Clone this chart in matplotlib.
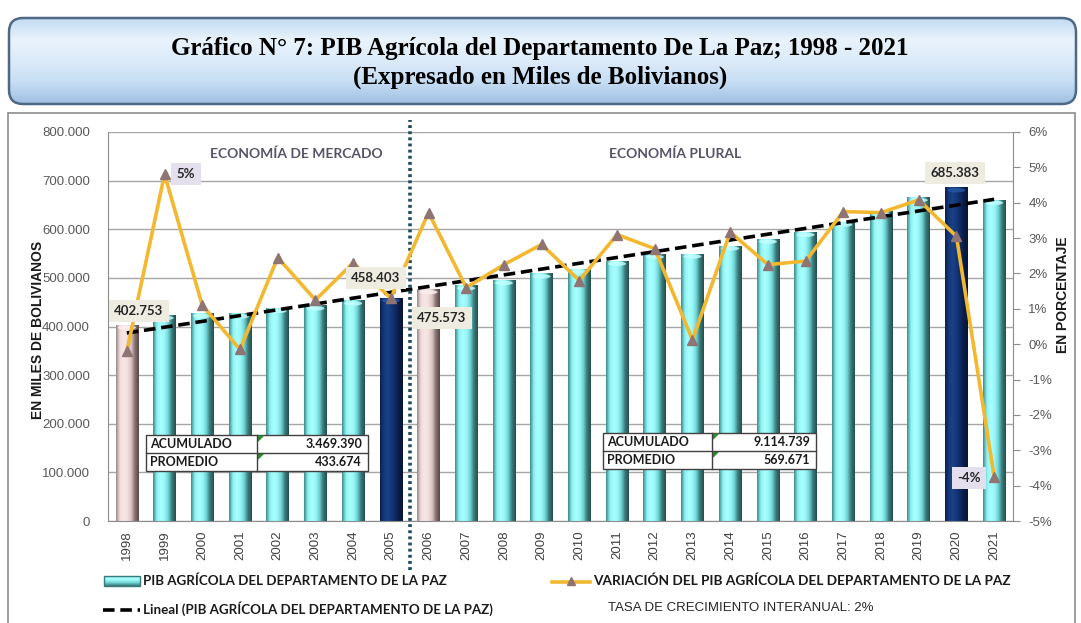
import numpy as np
import matplotlib
matplotlib.use('Agg')
import matplotlib.pyplot as plt
from matplotlib.colors import LinearSegmentedColormap
from matplotlib.patches import Rectangle, FancyBboxPatch, Ellipse

# ---- data ----
years = [str(y) for y in range(1998, 2022)]
pib = [402753, 422500, 426600, 425800, 437000, 442300, 452500, 458403,
       475573, 483500, 494500, 508000, 518000, 534000, 548000, 549000,
       565500, 579500, 593500, 614500, 637000, 664800, 685383, 659500]
variacion = [-0.2, 4.8, 1.1, -0.15, 2.45, 1.25, 2.3, 1.3,
             3.72, 1.6, 2.25, 2.82, 1.8, 3.1, 2.7, 0.12,
             3.17, 2.25, 2.35, 3.75, 3.72, 4.08, 3.05, -3.75]
# bar colour group: c = cyan, p = pink (start of period), n = navy (end of period)
bar_kind = ['p', 'c', 'c', 'c', 'c', 'c', 'c', 'n',
            'p', 'c', 'c', 'c', 'c', 'c', 'c', 'c',
            'c', 'c', 'c', 'c', 'c', 'c', 'n', 'c']
y_ticks = list(range(0, 800001, 100000))
pct_ticks = list(range(-5, 7))
bar_labels = {0: '402.753', 7: '458.403', 8: '475.573', 22: '685.383'}
pct_labels = {1: '5%', 23: '-4%'}
tabla_mercado = [('ACUMULADO', '3.469.390'), ('PROMEDIO', '433.674')]
tabla_plural = [('ACUMULADO', '9.114.739'), ('PROMEDIO', '569.671')]

W, H = 1081, 623
def fx(x):
    return x / W
def fy(y):
    return 1 - y / H

CAL = 'Lato'
ARIAL = 'Liberation Sans'

fig = plt.figure(figsize=(W / 100, H / 100), dpi=100)

# ---- title box ----
tax = fig.add_axes([0, 0, 1, 1], zorder=0)
tax.set_xlim(0, W)
tax.set_ylim(H, 0)
tax.axis('off')
title_cmap = LinearSegmentedColormap.from_list('t', ['#c3dbf2', '#e9f3fc', '#dcebf9', '#c6ddf3', '#9fc0e2'])
grad = np.linspace(0, 1, 100).reshape(-1, 1)
box = FancyBboxPatch((9, 18), 1067, 86, boxstyle='round,pad=0,rounding_size=14',
                     facecolor='none', edgecolor='#4d6985', lw=1.8, zorder=3)
tax.add_patch(box)
im = tax.imshow(grad, cmap=title_cmap, extent=(9, 1076, 104, 18), aspect='auto', zorder=2)
im.set_clip_path(box)
tax.text(540, 48, 'Gráfico N° 7: PIB Agrícola del Departamento De La Paz; 1998 - 2021',
         ha='center', va='center', fontsize=18, fontweight='bold', family='Liberation Serif')
tax.text(540, 77, '(Expresado en Miles de Bolivianos)',
         ha='center', va='center', fontsize=18, fontweight='bold', family='Liberation Serif')
# chart border
tax.add_patch(Rectangle((8, 113), 1067, 520, facecolor='white', edgecolor='#8c8c8c', lw=1.2, zorder=1))

# ---- main axes ----
ax = fig.add_axes([fx(108), fy(521), fx(1013) - fx(108), fy(132) - fy(521)], zorder=2)
ax.patch.set_alpha(0)
x = np.arange(len(years))
bw = 0.6

cmaps = {
    'c': LinearSegmentedColormap.from_list('c', ['#3f8c8c', '#8ff2f2', '#a9ffff', '#9cf8f8', '#6fd6d6', '#3a7a7a', '#264f4f']),
    'p': LinearSegmentedColormap.from_list('p', ['#9c8a8a', '#efdcdc', '#f8e6e6', '#f2dede', '#d8c2c2', '#857070', '#5a4848']),
    'n': LinearSegmentedColormap.from_list('n', ['#0b2050', '#16397a', '#1a428a', '#153777', '#0f2a62', '#0a1c46', '#081634']),
}
cap_col = {'c': '#c4ffff', 'p': '#fff0f0', 'n': '#2a58a8'}
hgrad = np.linspace(0, 1, 60).reshape(1, -1)
for i, v in enumerate(pib):
    k = bar_kind[i]
    ax.imshow(hgrad, cmap=cmaps[k], extent=(i - bw / 2, i + bw / 2, 0, v),
              aspect='auto', zorder=2, interpolation='bilinear')
    ax.add_patch(Ellipse((i, v - 5000), bw * 0.8, 9000, facecolor=cap_col[k], edgecolor='none',
                         alpha=0.8, zorder=2.1))

ax.set_xlim(-0.5, len(years) - 0.5)
ax.set_ylim(0, 800000)
ax.set_yticks(y_ticks)
ax.set_yticklabels(['0' if t == 0 else f'{t:,}'.replace(',', '.') for t in y_ticks],
                   family=ARIAL, fontsize=9.5, color='#595959')
ax.set_xticks(x)
ax.set_xticklabels(years, rotation=90, family=ARIAL, fontsize=9.5, color='#404040')
ax.tick_params(axis='y', length=0, pad=13)
ax.tick_params(axis='x', length=0, pad=7)
ax.grid(axis='y', color='#a6a6a6', lw=1, zorder=0)
ax.set_axisbelow(True)
ax.spines['top'].set_visible(False)
for s in ['left', 'bottom', 'right']:
    ax.spines[s].set_color('#8c8c8c')

# trend line
coef = np.polyfit(x, pib, 1)
ax.plot([x[0], x[-1]], np.polyval(coef, [x[0], x[-1]]), color='black', lw=2.6,
        ls=(0, (3.2, 1.6)), zorder=5)

# section separator
ax.plot([7.5, 7.5], [-0.125, 1.03], transform=ax.get_xaxis_transform(), clip_on=False,
        color='#1f4e5f', lw=2.6, ls=(0, (0.8, 0.9)), zorder=6)

ax.text(4.49, 0.945, 'ECONOMÍA DE MERCADO', transform=ax.get_xaxis_transform(),
        ha='center', va='center', family=CAL, fontsize=10, fontweight='bold', color='#57546a')
ax.text(14.54, 0.945, 'ECONOMÍA PLURAL', transform=ax.get_xaxis_transform(),
        ha='center', va='center', family=CAL, fontsize=10, fontweight='bold', color='#57546a')

# ---- percent axis ----
ax2 = ax.twinx()
ax2.set_zorder(3)
ax2.set_ylim(-5, 6)
ax2.set_yticks(pct_ticks)
ax2.set_yticklabels([f'{t}%' for t in pct_ticks], family=ARIAL, fontsize=9.5, color='#595959')
ax2.tick_params(axis='y', length=5, color='#8c8c8c', pad=6)
for s in ax2.spines.values():
    s.set_visible(False)
ax2.plot(x, variacion, color='#f2b830', lw=2.6, zorder=4)
ax2.plot(x, variacion, ls='none', marker='^', ms=7.5, color='#8f7474', zorder=5)

# data labels (bar values)
lbl_pos = {0: (139, 311), 7: (376, 278), 8: (442, 318), 22: (955, 173)}
for i, s in bar_labels.items():
    px, py = lbl_pos[i]
    fig.text(fx(px), fy(py), s, ha='center', va='center', family=CAL, fontsize=9.5,
             fontweight='bold', color='#262626', zorder=10,
             bbox=dict(boxstyle='square,pad=0.4', facecolor='#eeece1', edgecolor='none'))
pct_pos = {1: (186, 174), 23: (969, 478)}
for i, s in pct_labels.items():
    px, py = pct_pos[i]
    fig.text(fx(px), fy(py), s, ha='center', va='center', family=CAL, fontsize=9.5,
             fontweight='bold', color='#262626', zorder=10,
             bbox=dict(boxstyle='square,pad=0.4', facecolor='#e4dfec', edgecolor='none'))

# ---- summary tables ----
oax = fig.add_axes([0, 0, 1, 1], zorder=8)
oax.set_xlim(0, W)
oax.set_ylim(H, 0)
oax.axis('off')

def draw_table(rows, x0, x1, xd, y0, y1):
    rh = (y1 - y0) / len(rows)
    oax.add_patch(Rectangle((x0, y0), x1 - x0, y1 - y0, facecolor='white', edgecolor='#404040', lw=1))
    oax.plot([xd, xd], [y0, y1], color='#404040', lw=1)
    for r, (name, val) in enumerate(rows):
        yc = y0 + rh * (r + 0.5)
        if r > 0:
            oax.plot([x0, x1], [y0 + rh * r] * 2, color='#404040', lw=1)
        oax.text(x0 + 4, yc, name, ha='left', va='center', family=CAL, fontsize=9,
                 fontweight='bold', color='#1a1a1a')
        oax.text(x1 - 6, yc, val, ha='right', va='center', family=CAL, fontsize=9,
                 fontweight='bold', color='#1a1a1a')
        oax.add_patch(plt.Polygon([(xd + 1, y0 + rh * r + 1), (xd + 6, y0 + rh * r + 1),
                                   (xd + 1, y0 + rh * r + 6)], color='#2e8b2e'))

draw_table(tabla_mercado, 146, 368, 257, 435, 471)
draw_table(tabla_plural, 603, 816, 712, 433, 469)

# ---- axis titles ----
fig.text(fx(38), fy(330), 'EN MILES DE BOLIVIANOS', rotation=90, ha='center', va='center',
         family=ARIAL, fontsize=10, fontweight='bold', color='#1a1a1a')
fig.text(fx(1063), fy(295), 'EN PORCENTAJE', rotation=90, ha='center', va='center',
         family=ARIAL, fontsize=10, fontweight='bold', color='#1a1a1a')

# ---- legend ----
lcm = LinearSegmentedColormap.from_list('l', ['#8ff2f2', '#a9ffff', '#6fd6d6', '#3a7a7a'])
oax.imshow(np.linspace(0, 1, 20).reshape(-1, 1), cmap=lcm, extent=(104, 140, 586, 576), aspect='auto')
oax.add_patch(Rectangle((104, 576), 36, 10, facecolor='none', edgecolor='#3a7a7a', lw=1))
oax.set_xlim(0, W)
oax.set_ylim(H, 0)
oax.text(143, 581, 'PIB AGRÍCOLA DEL DEPARTAMENTO DE LA PAZ', ha='left', va='center',
         family=CAL, fontsize=9.6, fontweight='bold', color='#1a1a1a')
oax.plot([103, 140], [610, 610], color='black', lw=2.6, ls=(0, (3.2, 1.6)))
oax.text(143, 609, 'Lineal (PIB AGRÍCOLA DEL DEPARTAMENTO DE LA PAZ)', ha='left', va='center',
         family=CAL, fontsize=9.6, fontweight='bold', color='#1a1a1a')
oax.plot([552, 590], [582, 582], color='#f2b830', lw=2.6)
oax.plot([571], [581], marker='^', ms=6, color='#8f7474')
oax.text(593, 581, 'VARIACIÓN DEL PIB AGRÍCOLA DEL DEPARTAMENTO DE LA PAZ', ha='left', va='center',
         family=CAL, fontsize=9.8, fontweight='bold', color='#1a1a1a')
oax.text(608, 608, 'TASA DE CRECIMIENTO INTERANUAL: 2%', ha='left', va='center',
         family=ARIAL, fontsize=9.5, color='#262626')

fig.savefig('out.png', dpi=100)
